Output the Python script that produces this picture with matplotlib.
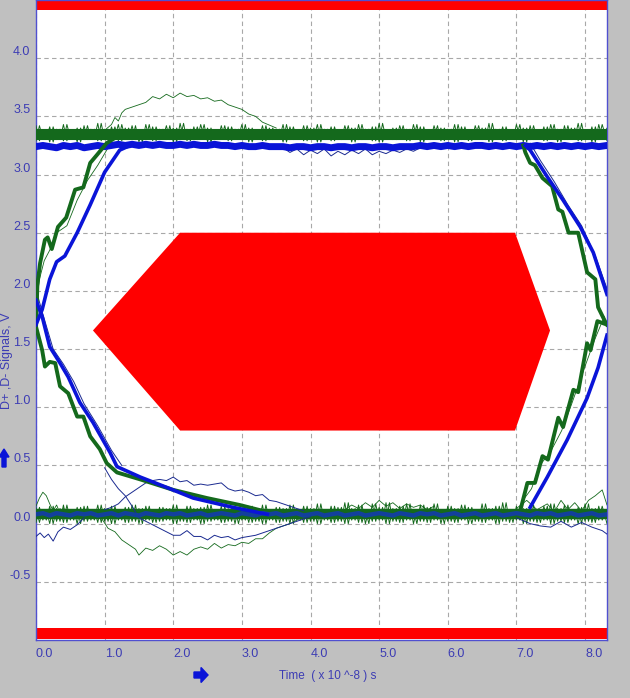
import matplotlib
matplotlib.use('Agg')
import matplotlib.pyplot as plt
from matplotlib.patches import FancyArrow

GREEN = '#14691c'
BLUE = '#0a14d8'
NAVY = '#1a2a90'
LABEL = '#3c3cb4'

# time grid for the noisy level bands (x 10^-8 s)
t_grid = [0.0, 0.1, 0.2, 0.3, 0.4, 0.5, 0.6, 0.7, 0.8, 0.9, 1.0, 1.1, 1.2, 1.3, 1.4, 1.5, 1.6, 1.7, 1.8, 1.9,
          2.0, 2.1, 2.2, 2.3, 2.4, 2.5, 2.6, 2.7, 2.8, 2.9, 3.0, 3.1, 3.2, 3.3, 3.4, 3.5, 3.6, 3.7, 3.8, 3.9,
          4.0, 4.1, 4.2, 4.3, 4.4, 4.5, 4.6, 4.7, 4.8, 4.9, 5.0, 5.1, 5.2, 5.3, 5.4, 5.5, 5.6, 5.7, 5.8, 5.9,
          6.0, 6.1, 6.2, 6.3, 6.4, 6.5, 6.6, 6.7, 6.8, 6.9, 7.0, 7.1, 7.2, 7.3, 7.4, 7.5, 7.6, 7.7, 7.8, 7.9,
          8.0, 8.1, 8.2, 8.32]

green_top_hi = [3.42, 3.38, 3.41, 3.39, 3.43, 3.38, 3.40, 3.42, 3.39, 3.44, 3.39, 3.41, 3.43, 3.40, 3.42, 3.38, 3.43, 3.41,
                3.39, 3.42, 3.40, 3.44, 3.39, 3.41, 3.43, 3.40, 3.38, 3.42, 3.41, 3.39, 3.43, 3.40, 3.38, 3.42, 3.40, 3.39,
                3.43, 3.41, 3.38, 3.42, 3.40, 3.43, 3.39, 3.41, 3.38, 3.42, 3.40, 3.43, 3.39, 3.41, 3.44, 3.38, 3.40, 3.42,
                3.39, 3.43, 3.41, 3.38, 3.42, 3.40, 3.39, 3.43, 3.41, 3.38, 3.42, 3.40, 3.44, 3.39, 3.41, 3.38, 3.43, 3.40,
                3.42, 3.38, 3.41, 3.43, 3.39, 3.42, 3.40, 3.44, 3.38, 3.41, 3.43, 3.40]
green_top_lo = [3.29, 3.31, 3.28, 3.30, 3.29, 3.32, 3.28, 3.30, 3.31, 3.29, 3.30, 3.32, 3.29, 3.31, 3.30, 3.28, 3.31, 3.29,
                3.32, 3.30, 3.28, 3.31, 3.29, 3.30, 3.32, 3.28, 3.30, 3.31, 3.29, 3.32, 3.30, 3.28, 3.31, 3.29, 3.30, 3.32,
                3.28, 3.30, 3.31, 3.29, 3.32, 3.28, 3.31, 3.29, 3.30, 3.32, 3.28, 3.30, 3.31, 3.29, 3.28, 3.31, 3.30, 3.32,
                3.29, 3.31, 3.28, 3.30, 3.32, 3.29, 3.31, 3.28, 3.30, 3.29, 3.32, 3.30, 3.28, 3.31, 3.29, 3.30, 3.32, 3.28,
                3.30, 3.31, 3.29, 3.32, 3.28, 3.30, 3.31, 3.29, 3.30, 3.28, 3.31, 3.29]
blue_top = [3.24, 3.25, 3.24, 3.23, 3.25, 3.24, 3.25, 3.23, 3.24, 3.25, 3.24, 3.25, 3.26, 3.25, 3.26, 3.25, 3.26, 3.25,
            3.26, 3.25, 3.25, 3.26, 3.25, 3.26, 3.25, 3.25, 3.26, 3.25, 3.25, 3.24, 3.25, 3.24, 3.24, 3.25, 3.24, 3.24,
            3.24, 3.23, 3.24, 3.24, 3.23, 3.24, 3.24, 3.23, 3.24, 3.24, 3.23, 3.24, 3.24, 3.23, 3.24, 3.24, 3.23, 3.24,
            3.24, 3.24, 3.25, 3.24, 3.25, 3.24, 3.25, 3.24, 3.25, 3.24, 3.25, 3.25, 3.24, 3.25, 3.24, 3.25, 3.24, 3.25,
            3.24, 3.25, 3.24, 3.25, 3.24, 3.25, 3.24, 3.25, 3.24, 3.25, 3.24, 3.25]
green_low_hi = [0.14, 0.12, 0.15, 0.13, 0.16, 0.12, 0.14, 0.15, 0.12, 0.16, 0.13, 0.15, 0.12, 0.14, 0.16, 0.13, 0.15, 0.12,
                0.14, 0.13, 0.16, 0.12, 0.15, 0.13, 0.14, 0.16, 0.12, 0.15, 0.13, 0.14, 0.12, 0.15, 0.13, 0.16, 0.12, 0.14,
                0.13, 0.16, 0.12, 0.15, 0.13, 0.17, 0.12, 0.15, 0.14, 0.18, 0.13, 0.16, 0.12, 0.17, 0.14, 0.18, 0.13, 0.15,
                0.17, 0.12, 0.16, 0.14, 0.17, 0.12, 0.15, 0.13, 0.16, 0.14, 0.12, 0.17, 0.13, 0.15, 0.18, 0.12, 0.15, 0.13,
                0.16, 0.12, 0.15, 0.17, 0.13, 0.16, 0.12, 0.14, 0.17, 0.13, 0.15, 0.12]
green_low_lo = [0.01, 0.03, 0.0, 0.02, 0.01, 0.03, 0.0, 0.02, 0.03, 0.01, 0.02, 0.0, 0.03, 0.01, 0.02, 0.0, 0.03, 0.01,
                0.02, 0.03, 0.0, 0.02, 0.01, 0.03, 0.0, 0.02, 0.03, 0.01, 0.02, 0.0, 0.03, 0.01, 0.02, 0.0, 0.03, 0.01,
                0.02, 0.0, 0.03, 0.01, 0.02, 0.0, 0.03, 0.01, 0.02, 0.0, 0.03, 0.01, 0.0, 0.02, 0.03, 0.0, 0.02, 0.01,
                0.03, 0.0, 0.02, 0.01, 0.03, 0.0, 0.02, 0.01, 0.03, 0.0, 0.02, 0.01, 0.03, 0.0, 0.02, 0.01, 0.03, 0.0,
                0.02, 0.01, 0.03, 0.0, 0.02, 0.01, 0.03, 0.0, 0.02, 0.01, 0.03, 0.0]
blue_low = [0.08, 0.09, 0.07, 0.09, 0.08, 0.07, 0.09, 0.08, 0.09, 0.07, 0.08, 0.09, 0.07, 0.09, 0.08, 0.07, 0.09, 0.08,
            0.07, 0.09, 0.08, 0.09, 0.07, 0.08, 0.09, 0.07, 0.08, 0.09, 0.08, 0.07, 0.09, 0.08, 0.07, 0.09, 0.08, 0.09,
            0.07, 0.08, 0.09, 0.07, 0.08, 0.09, 0.07, 0.08, 0.09, 0.07, 0.08, 0.09, 0.07, 0.08, 0.09, 0.08, 0.07, 0.09,
            0.08, 0.07, 0.09, 0.08, 0.09, 0.07, 0.08, 0.09, 0.07, 0.08, 0.09, 0.07, 0.08, 0.09, 0.07, 0.08, 0.09, 0.08,
            0.07, 0.09, 0.08, 0.09, 0.07, 0.08, 0.09, 0.07, 0.08, 0.09, 0.07, 0.08]
green_top_core = 3.345
green_low_core = 0.08

# eye edges
g_rise_l_t = [0.0, 0.02, 0.06, 0.13, 0.17, 0.23, 0.32, 0.44, 0.57, 0.69, 0.79, 0.89, 1.03, 1.22]
g_rise_l_v = [1.67, 2.05, 2.24, 2.44, 2.46, 2.36, 2.55, 2.63, 2.87, 2.89, 3.10, 3.17, 3.27, 3.34]
b_rise_l_t = [0.0, 0.09, 0.2, 0.3, 0.42, 0.6, 0.79, 1.0, 1.22, 1.37]
b_rise_l_v = [1.71, 1.84, 2.1, 2.25, 2.3, 2.5, 2.74, 3.02, 3.21, 3.25]
b_fall_l_t = [0.0, 0.09, 0.2, 0.35, 0.47, 0.64, 0.83, 1.08, 1.18, 1.52, 1.91, 2.29, 2.87, 3.37]
b_fall_l_v = [1.92, 1.78, 1.52, 1.38, 1.26, 1.04, 0.87, 0.61, 0.49, 0.40, 0.31, 0.22, 0.14, 0.08]
g_fall_l_t = [0.01, 0.09, 0.13, 0.2, 0.28, 0.35, 0.47, 0.6, 0.69, 0.79, 0.93, 1.03, 1.18, 1.52, 2.0, 2.49, 2.97, 3.37]
g_fall_l_v = [1.67, 1.49, 1.35, 1.39, 1.38, 1.18, 1.12, 0.92, 0.92, 0.75, 0.64, 0.52, 0.44, 0.38, 0.29, 0.22, 0.16, 0.10]
b_fall_r_t = [7.13, 7.2, 7.45, 7.68, 7.93, 8.12, 8.32]
b_fall_r_v = [3.25, 3.21, 2.98, 2.78, 2.55, 2.33, 1.97]
g_fall_r_t = [7.1, 7.13, 7.2, 7.27, 7.38, 7.52, 7.61, 7.67, 7.76, 7.9, 8.03, 8.15, 8.19, 8.29, 8.32]
g_fall_r_v = [3.25, 3.19, 3.1, 3.08, 2.97, 2.9, 2.7, 2.68, 2.5, 2.5, 2.16, 2.1, 1.86, 1.74, 1.71]
b_rise_r_t = [7.2, 7.45, 7.74, 8.03, 8.19, 8.32]
b_rise_r_v = [0.14, 0.4, 0.72, 1.08, 1.34, 1.62]
g_rise_r_t = [7.06, 7.16, 7.27, 7.38, 7.46, 7.61, 7.68, 7.83, 7.9, 8.03, 8.08, 8.18, 8.32]
g_rise_r_v = [0.12, 0.35, 0.35, 0.58, 0.55, 0.91, 0.83, 1.15, 1.13, 1.55, 1.49, 1.74, 1.71]

# thin companions running beside the thick edges
n_fall_l_t = [0.0, 0.1, 0.25, 0.4, 0.55, 0.7, 0.9, 1.1, 1.25]
n_fall_l_v = [2.01, 1.8, 1.5, 1.37, 1.22, 1.03, 0.84, 0.63, 0.5]
n_fall_r_t = [7.2, 7.35, 7.55, 7.75, 7.95, 8.15, 8.32]
n_fall_r_v = [3.27, 3.12, 2.94, 2.74, 2.56, 2.3, 2.02]
g2_rise_l_t = [0.0, 0.05, 0.12, 0.2, 0.3, 0.45, 0.6, 0.75, 0.9, 1.1]
g2_rise_l_v = [1.85, 2.1, 2.26, 2.35, 2.5, 2.56, 2.78, 2.95, 3.08, 3.28]
g2_rise_r_t = [7.12, 7.22, 7.34, 7.5, 7.66, 7.8, 7.98, 8.14, 8.28]
g2_rise_r_v = [0.22, 0.3, 0.5, 0.62, 0.8, 1.02, 1.32, 1.58, 1.78]

# stray single traces
g_bump_t = [1.0, 1.1, 1.15, 1.2, 1.25, 1.3, 1.4, 1.5, 1.6, 1.7, 1.8, 1.9, 2.0, 2.1, 2.2, 2.3, 2.4, 2.5, 2.6, 2.7, 2.8, 2.9, 3.0, 3.1, 3.2, 3.3, 3.5]
g_bump_v = [3.38, 3.43, 3.49, 3.46, 3.53, 3.56, 3.58, 3.6, 3.62, 3.67, 3.65, 3.69, 3.66, 3.70, 3.67, 3.68, 3.65, 3.66, 3.63, 3.64, 3.6, 3.58, 3.56, 3.52, 3.5, 3.45, 3.4]
g_dip_t = [0.95, 1.05, 1.15, 1.25, 1.35, 1.45, 1.5, 1.6, 1.7, 1.8, 1.9, 2.0, 2.1, 2.2, 2.3, 2.4, 2.5, 2.6, 2.7, 2.8, 2.9, 3.0, 3.1, 3.2, 3.3, 3.4, 3.5, 3.7, 3.9]
g_dip_v = [0.05, -0.04, -0.07, -0.14, -0.18, -0.22, -0.27, -0.21, -0.23, -0.19, -0.22, -0.27, -0.24, -0.27, -0.22, -0.2, -0.22, -0.17, -0.21, -0.18, -0.19, -0.16, -0.17, -0.13, -0.13, -0.08, -0.04, 0.0, 0.06]
b_hump_t = [1.0, 1.1, 1.2, 1.3, 1.4, 1.5, 1.6, 1.7, 1.8, 1.9, 2.0, 2.1, 2.2, 2.3, 2.4, 2.5, 2.6, 2.7, 2.8, 2.9, 3.0, 3.1, 3.2, 3.3, 3.4, 3.5, 3.7, 3.9]
b_hump_v = [0.12, 0.14, 0.17, 0.23, 0.27, 0.31, 0.35, 0.37, 0.38, 0.37, 0.40, 0.36, 0.37, 0.33, 0.34, 0.33, 0.34, 0.35, 0.30, 0.28, 0.29, 0.27, 0.24, 0.25, 0.20, 0.19, 0.15, 0.11]
b_sag_t = [1.0, 1.1, 1.2, 1.3, 1.4, 1.5, 1.6, 1.7, 1.8, 1.9, 2.0, 2.1, 2.2, 2.3, 2.4, 2.5, 2.6, 2.7, 2.8, 2.9, 3.0, 3.2, 3.4, 3.6, 3.8, 4.0]
b_sag_v = [0.48, 0.38, 0.30, 0.24, 0.15, 0.05, 0.02, -0.01, -0.04, -0.07, -0.10, -0.10, -0.06, -0.11, -0.11, -0.14, -0.10, -0.12, -0.11, -0.14, -0.12, -0.10, -0.06, -0.02, 0.02, 0.06]
b_left_t = [0.0, 0.06, 0.12, 0.18, 0.25, 0.32, 0.4, 0.5, 0.6, 0.7]
b_left_v = [-0.11, -0.08, -0.12, -0.09, -0.15, -0.07, -0.03, -0.05, -0.01, 0.05]
g_left_t = [0.0, 0.05, 0.1, 0.15, 0.2, 0.25, 0.3, 0.35, 0.4, 0.5]
g_left_v = [0.15, 0.22, 0.27, 0.24, 0.17, 0.11, 0.16, 0.09, 0.13, 0.07]
g_right_t = [7.0, 7.15, 7.3, 7.45, 7.55, 7.65, 7.75, 7.85, 7.95, 8.05, 8.15, 8.25, 8.32]
g_right_v = [0.13, 0.2, 0.12, 0.17, 0.1, 0.2, 0.12, 0.18, 0.11, 0.2, 0.24, 0.29, 0.16]
g_mid_t = [4.5, 4.6, 4.7, 4.8, 4.9, 5.0, 5.1, 5.2, 5.3, 5.4, 5.5, 5.6, 5.7, 5.8]
g_mid_v = [0.12, 0.16, 0.13, 0.18, 0.14, 0.2, 0.15, 0.18, 0.13, 0.17, 0.14, 0.16, 0.12, 0.15]
b_right_t = [7.0, 7.2, 7.35, 7.5, 7.65, 7.8, 7.95, 8.1, 8.25, 8.32]
b_right_v = [0.05, 0.0, -0.02, -0.03, 0.02, -0.03, 0.01, -0.03, -0.06, -0.09]
b_top_dip_t = [3.6, 3.7, 3.8, 3.9, 4.0, 4.1, 4.2, 4.3, 4.4, 4.5, 4.6, 4.7, 4.8, 4.9, 5.0, 5.1, 5.2, 5.3, 5.4, 5.5, 5.6]
b_top_dip_v = [3.23, 3.19, 3.22, 3.17, 3.21, 3.18, 3.22, 3.16, 3.2, 3.17, 3.21, 3.18, 3.22, 3.17, 3.2, 3.18, 3.21, 3.19, 3.22, 3.2, 3.23]

# mask: hexagon plus the two limit bars
mask_t = [0.83, 2.1, 6.98, 7.49, 6.98, 2.1]
mask_v = [1.66, 2.5, 2.5, 1.66, 0.8, 0.8]
bar_top = [4.41, 4.5]
bar_bottom = [-0.99, -0.895]

x_ticks = [0, 1, 2, 3, 4, 5, 6, 7, 8]
x_labels = ['0.0', '1.0', '2.0', '3.0', '4.0', '5.0', '6.0', '7.0', '8.0']
y_ticks = [-0.5, 0.0, 0.5, 1.0, 1.5, 2.0, 2.5, 3.0, 3.5, 4.0]
y_labels = ['-0.5', '0.0', '0.5', '1.0', '1.5', '2.0', '2.5', '3.0', '3.5', '4.0']


def zigzag(t, hi, lo):
    # each sample drawn as a small up-down stroke so the band looks noisy
    xs = []
    ys = []
    for a, b, c in zip(t, hi, lo):
        xs += [a, a + 0.05]
        ys += [b, c]
    return xs, ys


plt.rcParams['font.family'] = ['Liberation Sans', 'DejaVu Sans']

fig = plt.figure(figsize=(6.30, 6.98), dpi=100, facecolor='#c0c0c0')
ax = fig.add_axes([36 / 630, 1 - 640 / 698, 571 / 630, 640 / 698])
ax.set_xlim(0, 8.32)
ax.set_ylim(-1.0, 4.5)
ax.set_axisbelow(True)
ax.grid(True, color='#a8a8a8', linestyle=(0, (4, 3)), linewidth=0.8)

ax.fill(mask_t, mask_v, color='#ff0000', lw=0, zorder=2)
ax.axhspan(bar_top[0], bar_top[1], color='#ff0000', lw=0, zorder=2)
ax.axhspan(bar_bottom[0], bar_bottom[1], color='#ff0000', lw=0, zorder=2)

# level bands
ax.axhline(green_top_core, color=GREEN, lw=8.0, zorder=3)
ax.plot(*zigzag(t_grid, green_top_hi, green_top_lo), color=GREEN, lw=0.7, zorder=3)
ax.plot(*zigzag(t_grid, green_top_lo, green_top_hi), color=GREEN, lw=0.7, zorder=3)
ax.plot(t_grid, blue_top, color=BLUE, lw=5.0, zorder=4)
ax.axhline(green_low_core, color=GREEN, lw=7.5, zorder=3)
ax.plot(*zigzag(t_grid, green_low_hi, green_low_lo), color=GREEN, lw=0.7, zorder=3)
ax.plot(*zigzag(t_grid, green_low_lo, green_low_hi), color=GREEN, lw=0.7, zorder=3)
ax.plot(t_grid, blue_low, color='#12409c', lw=3.2, zorder=5)

# eye edges
for t, v in [(g_rise_l_t, g_rise_l_v), (g_fall_l_t, g_fall_l_v), (g_fall_r_t, g_fall_r_v), (g_rise_r_t, g_rise_r_v)]:
    ax.plot(t, v, color=GREEN, lw=2.8, zorder=4, solid_joinstyle='round')
for t, v in [(b_rise_l_t, b_rise_l_v), (b_fall_l_t, b_fall_l_v), (b_fall_r_t, b_fall_r_v), (b_rise_r_t, b_rise_r_v)]:
    ax.plot(t, v, color=BLUE, lw=2.6, zorder=5, solid_joinstyle='round')

# stray traces
for t, v in [(g_bump_t, g_bump_v), (g_dip_t, g_dip_v), (g_left_t, g_left_v), (g_right_t, g_right_v),
             (g_mid_t, g_mid_v), (g2_rise_l_t, g2_rise_l_v), (g2_rise_r_t, g2_rise_r_v)]:
    ax.plot(t, v, color=GREEN, lw=0.6, zorder=3)
for t, v in [(b_hump_t, b_hump_v), (b_sag_t, b_sag_v), (b_left_t, b_left_v), (b_right_t, b_right_v),
             (b_top_dip_t, b_top_dip_v), (n_fall_l_t, n_fall_l_v), (n_fall_r_t, n_fall_r_v)]:
    ax.plot(t, v, color=NAVY, lw=0.7, zorder=3)

ax.set_xticks(x_ticks, x_labels, ha='left', color=LABEL, fontsize=9)
ax.set_yticks(y_ticks, y_labels, va='bottom', color=LABEL, fontsize=9)
ax.tick_params(axis='y', length=0, pad=4)
ax.tick_params(axis='x', length=0, pad=6)
for side in ax.spines:
    ax.spines[side].set_color('#5050d0')
    ax.spines[side].set_linewidth(1.0)

fig.text(7 / 630, 1 - 361 / 698, 'D+ ,D- Signals, V', rotation=90, color=LABEL, fontsize=9, ha='center', va='center')
fig.text(328 / 630, 1 - 676 / 698, 'Time  ( x 10 ^-8 ) s', color=LABEL, fontsize=8.5, ha='center', va='center')

# little direction arrows in the margin
fig.add_artist(FancyArrow(4 / 630, 1 - 467 / 698, 0, 18 / 698, width=4 / 630, head_width=10 / 630, head_length=8 / 698,
                          length_includes_head=True, color=BLUE, transform=fig.transFigure))
fig.add_artist(FancyArrow(194 / 630, 1 - 675 / 698, 14 / 630, 0, width=6 / 698, head_width=15 / 698, head_length=7 / 630,
                          length_includes_head=True, color=BLUE, transform=fig.transFigure))

fig.savefig('out.png', dpi=100, facecolor=fig.get_facecolor())
